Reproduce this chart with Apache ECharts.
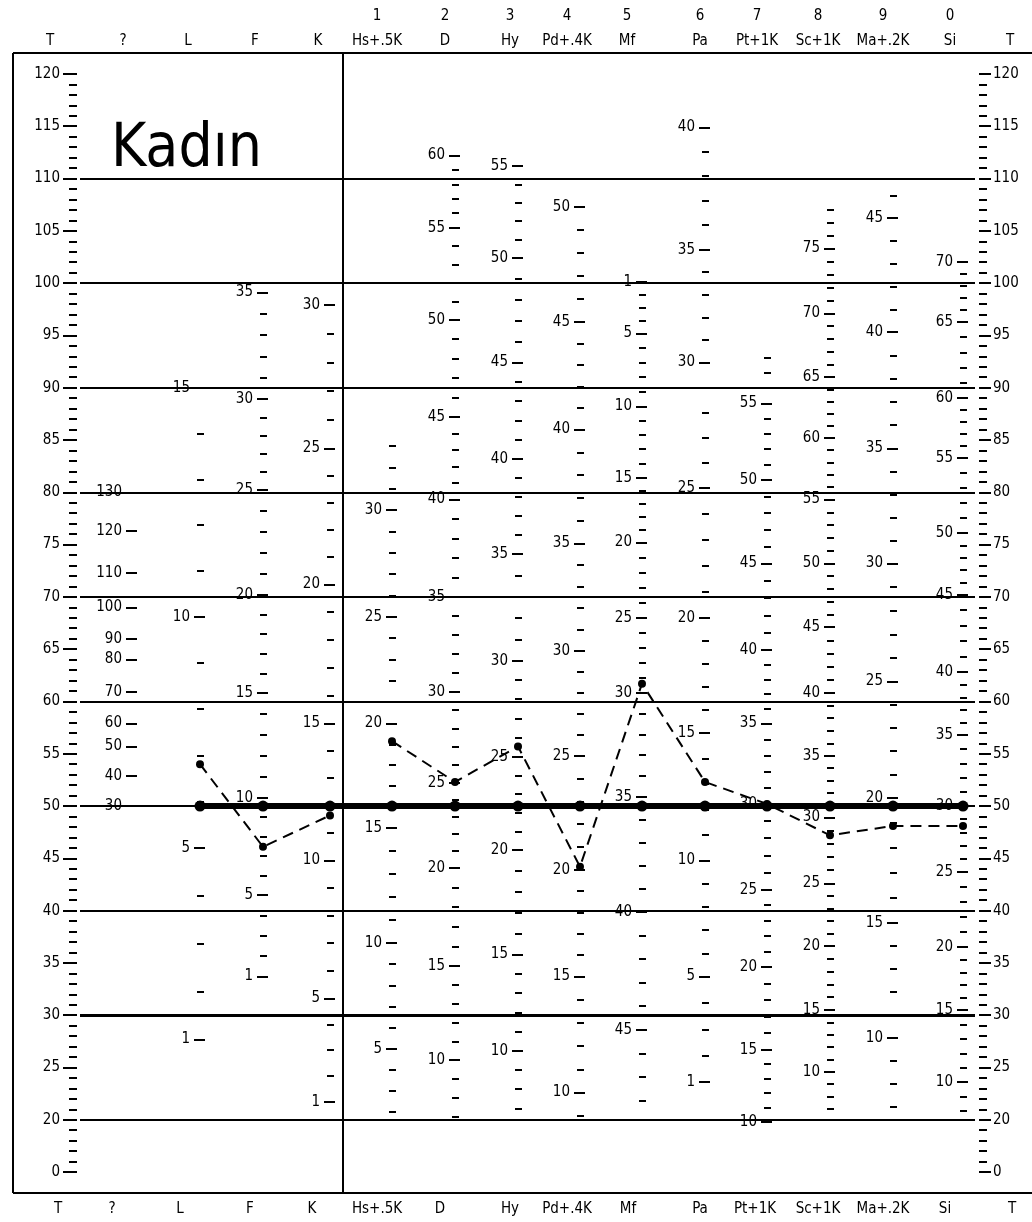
<!DOCTYPE html>
<html>
<head>
<meta charset="utf-8">
<title>MMPI profil - Kadın</title>
<script src="https://cdn.jsdelivr.net/npm/echarts@6/dist/echarts.min.js"></script>
<style>
  html, body { margin: 0; padding: 0; background: #fff; }
  #chart { width: 1032px; height: 1222px; }
</style>
</head>
<body>
<div id="chart"></div>
<script>
// ---- data ----
var scaleNames = ['T', '?', 'L', 'F', 'K', 'Hs+.5K', 'D', 'Hy', 'Pd+.4K', 'Mf', 'Pa', 'Pt+1K', 'Sc+1K', 'Ma+.2K', 'Si', 'T'];
var scaleNumbers = ['', '', '', '', '', '1', '2', '3', '4', '5', '6', '7', '8', '9', '0', ''];

// T scores of the profile (dashed line)
var validityT = [54, 46.1, 49.1];                                            // L F K
var clinicalT = [56.2, 52.3, 55.7, 44.2, 61.7, 52.3, 50.2, 47.2, 48.1, 48.1]; // Hs .. Si
// thick reference profile
var meanT = [50, 50, 50, 50, 50, 50, 50, 50, 50, 50, 50, 50, 50];            // L .. Si

// T axis labels (the "0" label sits right under 20, after a break)
var tLabels = [120, 115, 110, 105, 100, 95, 90, 85, 80, 75, 70, 65, 60, 55, 50, 45, 40, 35, 30, 25, 20];
var tZeroLabel = '0';
var gridT = [110, 100, 90, 80, 70, 60, 50, 40, 30, 20];

// raw score labels of each scale: [raw, T]
var scaleQ  = [[130, 80], [120, 76.3], [110, 72.3], [100, 69], [90, 66], [80, 64], [70, 60.9], [60, 57.9], [50, 55.7], [40, 52.9], [30, 50]];
var scaleL  = [[15, 90], [10, 68.1], [5, 46], [1, 27.7]];
var scaleF  = [[35, 99.1], [30, 88.9], [25, 80.2], [20, 70.2], [15, 60.8], [10, 50.8], [5, 41.5], [1, 33.7]];
var scaleK  = [[30, 97.9], [25, 84.2], [20, 71.2], [15, 57.9], [10, 44.8], [5, 31.6], [1, 21.7]];
var scaleHs = [[30, 78.3], [25, 68.1], [20, 57.9], [15, 47.9], [10, 36.9], [5, 26.8]];
var scaleD  = [[60, 112.2], [55, 105.3], [50, 96.5], [45, 87.2], [40, 79.3], [35, 70], [30, 60.9], [25, 52.2], [20, 44.1], [15, 34.7], [10, 25.7]];
var scaleHy = [[55, 111.2], [50, 102.4], [45, 92.4], [40, 83.2], [35, 74.1], [30, 63.9], [25, 54.7], [20, 45.8], [15, 35.8], [10, 26.6]];
var scalePd = [[50, 107.3], [45, 96.3], [40, 86], [35, 75.1], [30, 64.8], [25, 54.8], [20, 43.9], [15, 33.7], [10, 22.6]];
var scaleMf = [[1, 100.1], [5, 95.2], [10, 88.2], [15, 81.4], [20, 75.2], [25, 68], [30, 60.8], [35, 50.9], [40, 39.9], [45, 28.6]];
var scalePa = [[40, 114.9], [35, 103.2], [30, 92.4], [25, 80.4], [20, 68], [15, 57], [10, 44.8], [5, 33.7], [1, 23.6]];
var scalePt = [[55, 88.5], [50, 81.2], [45, 73.2], [40, 64.9], [35, 57.9], [30, 50.2], [25, 42], [20, 34.6], [15, 26.7], [10, 19.8]];
var scaleSc = [[75, 103.3], [70, 97.1], [65, 91], [60, 85.2], [55, 79.3], [50, 73.2], [45, 67.1], [40, 60.8], [35, 54.8], [30, 48.9], [25, 42.6], [20, 36.6], [15, 30.5], [10, 24.6]];
var scaleMa = [[45, 106.2], [40, 95.3], [35, 84.2], [30, 73.2], [25, 61.9], [20, 50.8], [15, 38.8], [10, 27.8]];
var scaleSi = [[70, 102], [65, 96.3], [60, 89], [55, 83.3], [50, 76.1], [45, 70.2], [40, 62.8], [35, 56.8], [30, 50], [25, 43.7], [20, 36.5], [15, 30.5], [10, 23.6]];

// raw range that carries a small dash on each scale
var rangeL = [1, 15], rangeF = [1, 35], rangeK = [1, 30], rangeHs = [2, 33], rangeD = [7, 60], rangeHy = [7, 55],
    rangePd = [9, 50], rangeMf = [1, 48], rangePa = [1, 40], rangePt = [10, 58], rangeSc = [7, 78], rangeMa = [7, 46], rangeSi = [8, 70];

// ---- layout ----
var W = 1032;
var Tmin = 13, Tmax = 122, Tzero = 15;
var ink = '#000';
var font = "'DejaVu Sans Condensed','DejaVu Sans',sans-serif";
// x of each scale column (pixels): T ? L F K Hs D Hy Pd Mf Pa Pt Sc Ma Si T
var colX = [77, 132, 200, 263, 330, 392, 455, 518, 580, 642, 705, 767, 830, 893, 963, 979];
var topNameX = [50, 123, 188, 255, 318, 377, 445, 510, 567, 627, 700, 757, 818, 883, 950, 1010];
var bottomNameX = [58, 112, 180, 250, 312, 377, 440, 510, 567, 628, 700, 755, 818, 883, 945, 1012];
var frameLeft = 13, separatorX = 343, gridLeft = 80, gridRight = 975;

// position of a raw score on the T scale, from the printed labels around it
function rawToT(pts, r) {
    var s = pts.slice().sort(function (a, b) { return a[0] - b[0]; });
    var i = 0;
    while (i < s.length - 2 && r > s[i + 1][0]) i++;
    var a = s[i], b = s[i + 1];
    return a[1] + (r - a[0]) * (b[1] - a[1]) / (b[0] - a[0]);
}

function baseAxis(x) {
    return {
        type: 'value', min: Tmin, max: Tmax, position: 'left', offset: -x, z: 4,
        axisLine: { show: false, onZero: false },
        splitLine: { show: false }
    };
}

function scaleAxes(x, pts, range) {
    var out = [];
    var text = {};
    pts.forEach(function (p) { text[p[1]] = String(p[0]); });
    if (range) {
        var minor = [];
        for (var r = range[0]; r <= range[1]; r++) {
            if (!pts.some(function (p) { return p[0] === r; })) minor.push(rawToT(pts, r));
        }
        var a = baseAxis(x + 4);
        a.axisTick = { show: true, customValues: minor, length: 7, lineStyle: { color: ink, width: 2 } };
        a.axisLabel = { show: false };
        out.push(a);
    }
    var m = baseAxis(x + 5);
    var major = pts.map(function (p) { return p[1]; });
    m.axisTick = { show: true, customValues: major, length: 11, lineStyle: { color: ink, width: 2 } };
    m.axisLabel = {
        show: true, customValues: major, margin: 13, color: ink, fontSize: 15, fontFamily: font,
        backgroundColor: '#fff', padding: [0, 2],
        formatter: function (v) { return text[v] || ''; }
    };
    out.push(m);
    return out;
}

var yAxes = [];
// left T axis
var tMinor = [], tMajor = tLabels.concat([Tzero]);
for (var t = Tzero; t <= 120; t++) tMinor.push(t);
function tText(v) { return v === Tzero ? tZeroLabel : String(v); }
var tl = baseAxis(colX[0]);
tl.axisTick = { show: true, customValues: tMinor, length: 8, lineStyle: { color: ink, width: 2 } };
tl.axisLabel = { show: false };
yAxes.push(tl);
var tl2 = baseAxis(colX[0]);
tl2.axisTick = { show: true, customValues: tMajor, length: 14, lineStyle: { color: ink, width: 2 } };
tl2.axisLabel = { show: true, customValues: tMajor, margin: 17, color: ink, fontSize: 15, fontFamily: font, formatter: tText };
yAxes.push(tl2);
// right T axis
var tr = baseAxis(0);
tr.position = 'right'; tr.offset = -(W - colX[15]);
tr.axisTick = { show: true, customValues: tMinor, length: 8, lineStyle: { color: ink, width: 2 } };
tr.axisLabel = { show: false };
yAxes.push(tr);
var tr2 = baseAxis(0);
tr2.position = 'right'; tr2.offset = -(W - colX[15]);
tr2.axisTick = { show: true, customValues: tMajor, length: 12, lineStyle: { color: ink, width: 2 } };
tr2.axisLabel = { show: true, customValues: tMajor, margin: 14, color: ink, fontSize: 15, fontFamily: font, formatter: tText };
yAxes.push(tr2);

var scales = [
    [scaleQ, null], [scaleL, rangeL], [scaleF, rangeF], [scaleK, rangeK], [scaleHs, rangeHs], [scaleD, rangeD],
    [scaleHy, rangeHy], [scalePd, rangePd], [scaleMf, rangeMf], [scalePa, rangePa], [scalePt, rangePt],
    [scaleSc, rangeSc], [scaleMa, rangeMa], [scaleSi, rangeSi]
];
scales.forEach(function (s, i) {
    yAxes = yAxes.concat(scaleAxes(colX[i + 1], s[0], s[1]));
});

function nameAxis(pos, xs, texts, offset, margin) {
    return {
        type: 'value', min: 0, max: W, position: pos, offset: offset,
        axisLine: { show: false, onZero: false }, axisTick: { show: false }, splitLine: { show: false },
        axisLabel: {
            show: true, customValues: xs, margin: margin, color: ink, fontSize: 15, fontFamily: font,
            formatter: function (v) { return texts[xs.indexOf(v)]; }
        }
    };
}

// frame + horizontal guide lines
var guide = [];
guide.push([{ coord: [frameLeft, Tmax] }, { coord: [W, Tmax] }]);
guide.push([{ coord: [frameLeft, Tmin] }, { coord: [W, Tmin] }]);
guide.push([{ coord: [frameLeft, Tmax] }, { coord: [frameLeft, Tmin] }]);
guide.push([{ coord: [separatorX, Tmax] }, { coord: [separatorX, Tmin] }]);
gridT.forEach(function (v) {
    guide.push([{ coord: [gridLeft, v], lineStyle: { width: v === 30 ? 3 : 1.8 } }, { coord: [gridRight, v] }]);
});

var profileValidity = validityT.map(function (v, i) { return [colX[2 + i], v]; });
var profileClinical = clinicalT.map(function (v, i) { return [colX[5 + i], v]; });
var meanLine = meanT.map(function (v, i) { return [colX[2 + i], v]; });

var chart = echarts.init(document.getElementById('chart'));
chart.setOption({
    backgroundColor: '#fff',
    animation: false,
    title: {
        text: 'Kadın', left: 106, top: 115,
        textStyle: { fontSize: 60, fontWeight: 'normal', color: ink, fontFamily: font }
    },
    grid: { left: 0, right: 0, top: 53, bottom: 29, outerBoundsMode: 'none' },
    xAxis: [
        nameAxis('top', topNameX, scaleNames, 0, 4),
        nameAxis('top', topNameX, scaleNumbers, 25, 4),
        nameAxis('bottom', bottomNameX, scaleNames, 0, 9)
    ],
    yAxis: yAxes,
    series: [
        {
            type: 'line', data: [], z: 1, silent: true,
            markLine: {
                silent: true, symbol: ['none', 'none'], label: { show: false },
                lineStyle: { color: ink, type: 'solid', width: 2 },
                emphasis: { disabled: true },
                data: guide
            }
        },
        {
            name: 'ortalama', type: 'line', data: meanLine, z: 6,
            symbol: 'circle', symbolSize: 11,
            lineStyle: { color: ink, width: 6 }, itemStyle: { color: ink }
        },
        {
            name: 'profil', type: 'line', data: profileValidity, z: 7,
            symbol: 'circle', symbolSize: 8,
            lineStyle: { color: ink, width: 2, type: [11, 7] }, itemStyle: { color: ink }
        },
        {
            name: 'profil', type: 'line', data: profileClinical, z: 7,
            symbol: 'circle', symbolSize: 8,
            lineStyle: { color: ink, width: 2, type: [11, 7] }, itemStyle: { color: ink }
        }
    ]
});
</script>
</body>
</html>
